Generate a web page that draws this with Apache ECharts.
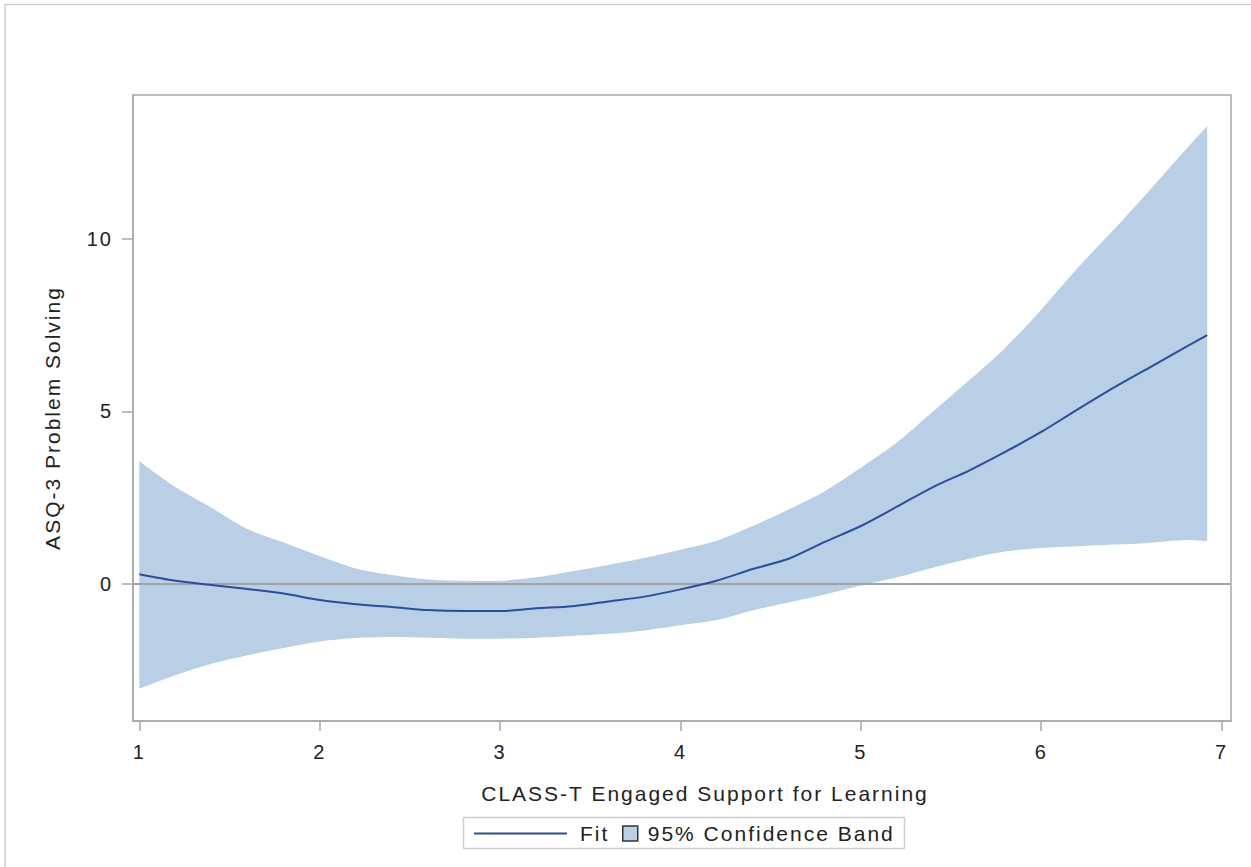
<!DOCTYPE html>
<html>
<head>
<meta charset="utf-8">
<script src="https://cdn.jsdelivr.net/npm/echarts@6/dist/echarts.min.js"></script>
<style>
  html, body { margin: 0; padding: 0; background: #ffffff; }
  #chart { width: 1251px; height: 867px; }
  /* slightly open tracking for all chart text */
  #chart text { letter-spacing: 2px; }
</style>
</head>
<body>
<div id="chart"></div>
<script>
// CLASS-T engaged support score (x) for each fitted point
const xValues = [1.0, 1.2, 1.4, 1.6, 1.8, 2.0, 2.2, 2.4, 2.6, 2.8, 3.0, 3.2, 3.4, 3.6, 3.8,
                 4.0, 4.2, 4.4, 4.6, 4.8, 5.0, 5.2, 5.4, 5.6, 5.8, 6.0, 6.2, 6.4, 6.6, 6.8, 6.92];
// Fitted ASQ-3 problem solving
const fitValues = [0.27, 0.08, -0.04, -0.16, -0.29, -0.48, -0.60, -0.68, -0.77, -0.80, -0.80, -0.72, -0.66, -0.52, -0.38,
                   -0.17, 0.08, 0.42, 0.72, 1.21, 1.67, 2.23, 2.80, 3.28, 3.82, 4.40, 5.05, 5.68, 6.27, 6.86, 7.21];
// 95% confidence limits
const upperValues = [3.55, 2.80, 2.20, 1.58, 1.19, 0.80, 0.44, 0.25, 0.12, 0.08, 0.08, 0.18, 0.36, 0.54, 0.74,
                     0.98, 1.24, 1.67, 2.15, 2.68, 3.36, 4.09, 4.99, 5.90, 6.84, 7.95, 9.15, 10.26, 11.41, 12.59, 13.28];
const lowerValues = [-3.05, -2.66, -2.33, -2.08, -1.87, -1.68, -1.58, -1.55, -1.57, -1.60, -1.60, -1.57, -1.52, -1.46, -1.36,
                     -1.21, -1.06, -0.78, -0.55, -0.32, -0.06, 0.18, 0.46, 0.72, 0.93, 1.03, 1.08, 1.13, 1.18, 1.26, 1.23];
const xTicks = [1, 2, 3, 4, 5, 6, 7];
const yTicks = [0, 5, 10];

const FONT = '"Liberation Sans", Arial, sans-serif';
const BAND = '#b9cfe6';
const FIT = '#2b4c9f';
const FRAME = '#a9a9a9';
const TEXT = '#222222';

const chart = echarts.init(document.getElementById('chart'), null, { renderer: 'svg' });

const fitData = xValues.map((x, i) => [x, fitValues[i]]);
const n = xValues.length;

// Confidence band as one closed outline: upper limit left→right, lower limit right→left.
// Corner points are repeated so the smoothing keeps the end edges straight.
function renderBand(params, api) {
  const pts = [];
  for (let i = 0; i < n; i++) {
    const p = api.coord([xValues[i], upperValues[i]]);
    pts.push(p);
    if (i === n - 1) pts.push(p.slice());
  }
  for (let i = n - 1; i >= 0; i--) {
    const p = api.coord([xValues[i], lowerValues[i]]);
    pts.push(p);
    if (i === n - 1 || i === 0) pts.push(p.slice());
  }
  pts.push(api.coord([xValues[0], upperValues[0]]));
  return {
    type: 'polygon',
    shape: { points: pts, smooth: 0.3 },
    style: { fill: BAND, stroke: null }
  };
}

chart.setOption({
  animation: false,
  backgroundColor: '#ffffff',
  grid: {
    left: 133, right: 20, top: 95, bottom: 146,
    show: true, borderColor: FRAME, borderWidth: 1.5, backgroundColor: 'transparent'
  },
  xAxis: {
    type: 'value',
    min: 0.965, max: 7.052,
    name: 'CLASS-T Engaged Support for Learning',
    nameLocation: 'middle',
    nameGap: 62,
    nameTextStyle: { fontFamily: FONT, fontSize: 21, color: TEXT, padding: [0, 0, 0, 46] },
    axisLine: { show: true, onZero: false, lineStyle: { color: FRAME, width: 1.5 } },
    axisTick: { show: true, length: 10, lineStyle: { color: FRAME, width: 1.5 }, customValues: xTicks },
    axisLabel: { fontFamily: FONT, fontSize: 20, color: TEXT, margin: 21, customValues: xTicks },
    splitLine: { show: false }
  },
  yAxis: {
    type: 'value',
    min: -3.99, max: 14.18,
    name: 'ASQ-3 Problem Solving',
    nameLocation: 'middle',
    nameGap: 70,
    nameRotate: 90,
    nameTextStyle: { fontFamily: FONT, fontSize: 21, color: TEXT, padding: [0, 20, 0, 0] },
    axisLine: { show: true, onZero: false, lineStyle: { color: FRAME, width: 1.5 } },
    axisTick: { show: true, length: 11, lineStyle: { color: FRAME, width: 1.5 }, customValues: yTicks },
    axisLabel: { fontFamily: FONT, fontSize: 20, color: TEXT, margin: 20, customValues: yTicks },
    splitLine: { show: false }
  },
  legend: [
    {
      left: 474, top: 823, padding: 0,
      data: [{ name: 'Fit', icon: 'path://M0,0 H93 V2 H0 Z' }],
      itemWidth: 93, itemHeight: 2, itemGap: 0,
      textStyle: { fontFamily: FONT, fontSize: 21, color: TEXT, padding: [0, 0, 0, 8] }
    },
    {
      left: 622, top: 823, padding: 0,
      data: [{ name: '95% Confidence Band', icon: 'rect' }],
      itemWidth: 15, itemHeight: 15, itemGap: 0,
      itemStyle: { borderColor: '#333333', borderWidth: 1.5 },
      textStyle: { fontFamily: FONT, fontSize: 21, color: TEXT, padding: [0, 0, 0, 5] }
    }
  ],
  graphic: [
    // outer frame around the figure
    { type: 'rect', silent: true,
      shape: { x: 5, y: 4.5, width: 1260, height: 880 },
      style: { fill: 'none', stroke: '#cccccc', lineWidth: 1.5 } },
    // legend box
    { type: 'rect', silent: true,
      shape: { x: 463.5, y: 817.5, width: 441, height: 31 },
      style: { fill: 'none', stroke: '#cfcfcf', lineWidth: 1.5 } }
  ],
  series: [
    {
      name: '95% Confidence Band',
      type: 'custom',
      coordinateSystem: 'cartesian2d',
      silent: true,
      z: 1,
      color: BAND,
      data: [[xValues[0], upperValues[0]]],
      renderItem: renderBand
    },
    {
      name: 'Fit',
      type: 'line',
      z: 3,
      data: fitData,
      smooth: 0.3,
      symbol: 'none',
      color: FIT,
      lineStyle: { color: FIT, width: 2 },
      markLine: {
        silent: true,
        symbol: 'none',
        label: { show: false },
        lineStyle: { color: '#a3a3a3', width: 2, type: 'solid' },
        data: [{ yAxis: 0 }],
        z: 2
      }
    }
  ]
});
</script>
</body>
</html>
